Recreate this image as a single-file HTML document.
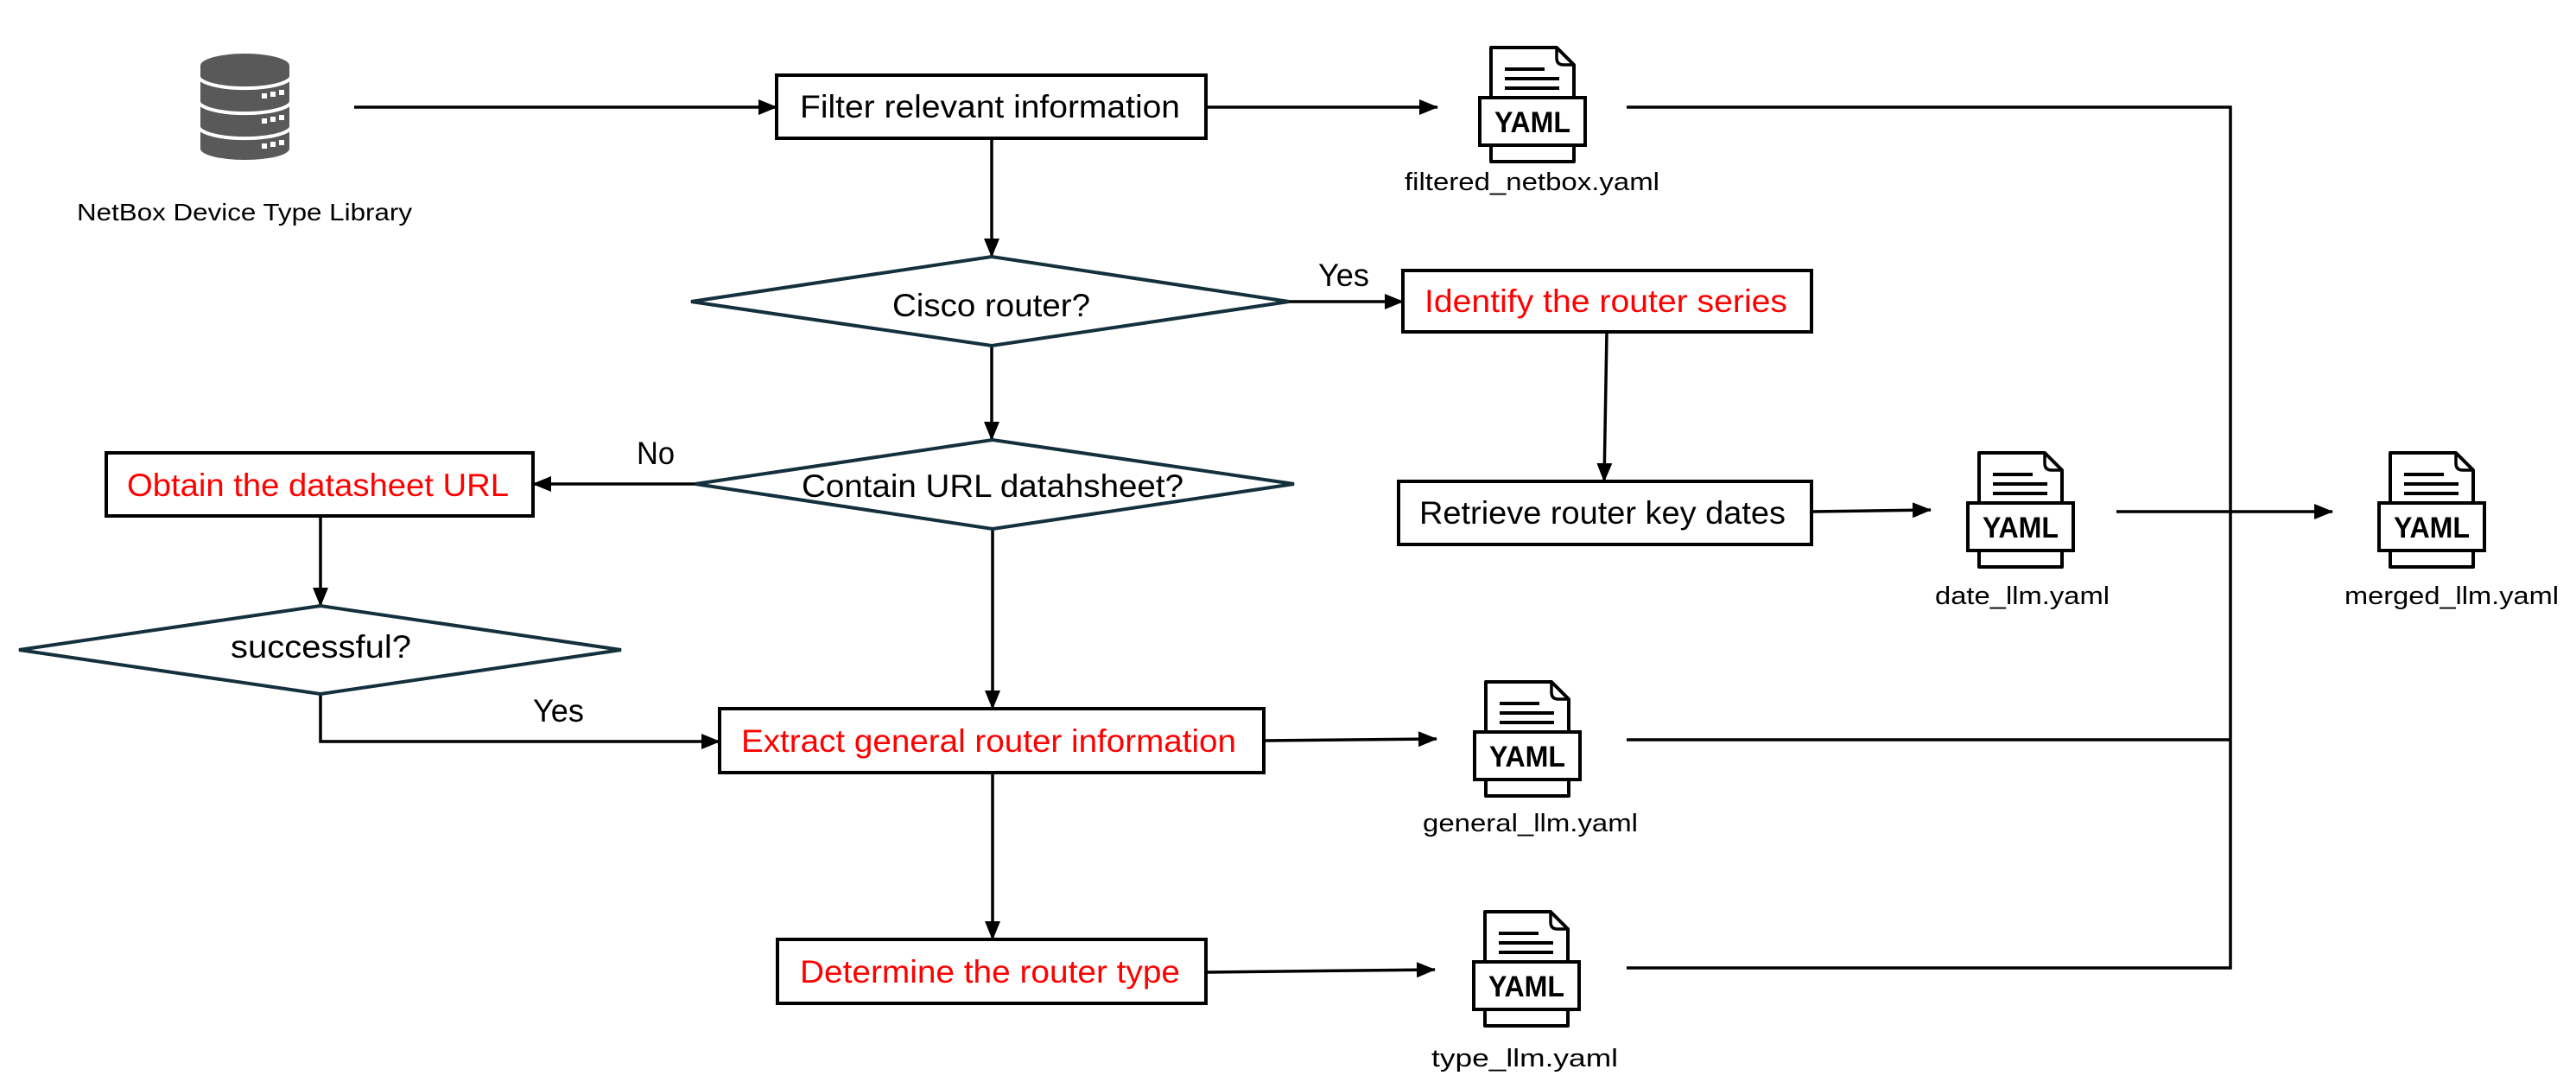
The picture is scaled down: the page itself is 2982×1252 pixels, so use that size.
<!DOCTYPE html>
<html><head><meta charset="utf-8"><style>
html,body{margin:0;padding:0;background:#fff;}
svg{display:block;}
text{font-family:"Liberation Sans",sans-serif;}
</style></head><body>
<svg width="2982" height="1252" viewBox="0 0 2982 1252" xmlns="http://www.w3.org/2000/svg">
<defs>
<marker id="ah" markerWidth="22" markerHeight="18" refX="21" refY="9" orient="auto" markerUnits="userSpaceOnUse">
<path d="M0,0 L22,9 L0,18 Z" fill="#000"/>
</marker>
<g id="yaml">
<path d="M0,0 H76 L96,20 V132 H0 Z" fill="#fff" stroke="#000" stroke-width="4" stroke-linejoin="round"/>
<path d="M76,0 V12 Q76,20 84,20 H96" fill="none" stroke="#000" stroke-width="3.5"/>
<line x1="16" y1="25" x2="62" y2="25" stroke="#000" stroke-width="4"/>
<line x1="16" y1="36" x2="79" y2="36" stroke="#000" stroke-width="4"/>
<line x1="16" y1="47" x2="79" y2="47" stroke="#000" stroke-width="4"/>
<rect x="-13" y="58" width="122" height="55" fill="#fff" stroke="#000" stroke-width="4"/>
<text x="48" y="98" text-anchor="middle" font-weight="bold" font-size="34" textLength="88" lengthAdjust="spacingAndGlyphs">YAML</text>
</g>
</defs>

<!-- database icon -->
<g fill="#595959">
<rect x="232" y="76" width="103" height="96"/>
<ellipse cx="283.5" cy="76" rx="51.5" ry="14"/>
<ellipse cx="283.5" cy="172" rx="51.5" ry="13"/>
</g>
<g fill="none" stroke="#fff" stroke-width="4">
<path d="M230,88 A53,14 0 0 0 337,88"/>
<path d="M230,117 A53,14 0 0 0 337,117"/>
<path d="M230,146 A53,14 0 0 0 337,146"/>
</g>
<g fill="#fff">
<rect x="303" y="108" width="6" height="6"/><rect x="313" y="106" width="6" height="6"/><rect x="323" y="104" width="6" height="6"/>
<rect x="303" y="137" width="6" height="6"/><rect x="313" y="135" width="6" height="6"/><rect x="323" y="133" width="6" height="6"/>
<rect x="303" y="166" width="6" height="6"/><rect x="313" y="164" width="6" height="6"/><rect x="323" y="162" width="6" height="6"/>
</g>
<text x="89" y="255" font-size="28" textLength="388" lengthAdjust="spacingAndGlyphs">NetBox Device Type Library</text>

<!-- connectors -->
<g stroke="#000" stroke-width="3.5" fill="none">
<line x1="410" y1="124" x2="899" y2="124" marker-end="url(#ah)"/>
<line x1="1396" y1="124" x2="1664" y2="124" marker-end="url(#ah)"/>
<line x1="1148" y1="160" x2="1148" y2="297" marker-end="url(#ah)"/>
<line x1="1492" y1="349" x2="1624" y2="349" marker-end="url(#ah)"/>
<line x1="1148" y1="400" x2="1148" y2="509" marker-end="url(#ah)"/>
<line x1="805" y1="560" x2="617" y2="560" marker-end="url(#ah)"/>
<line x1="371" y1="597" x2="371" y2="701" marker-end="url(#ah)"/>
<polyline points="371,803 371,858 833,858" marker-end="url(#ah)"/>
<line x1="1149" y1="612" x2="1149" y2="820" marker-end="url(#ah)"/>
<line x1="1860" y1="384" x2="1857" y2="557" marker-end="url(#ah)"/>
<line x1="2097" y1="592" x2="2235" y2="590" marker-end="url(#ah)"/>
<line x1="2450" y1="592" x2="2700" y2="592" marker-end="url(#ah)"/>
<line x1="1463" y1="857" x2="1663" y2="855" marker-end="url(#ah)"/>
<line x1="1149" y1="894" x2="1149" y2="1087" marker-end="url(#ah)"/>
<line x1="1396" y1="1125" x2="1661" y2="1122" marker-end="url(#ah)"/>
<polyline points="1883,124 2582,124 2582,1120 1883,1120"/>
<line x1="1883" y1="856" x2="2582" y2="856"/>
</g>

<!-- boxes -->
<g fill="#fff" stroke="#000" stroke-width="4">
<rect x="899" y="87" width="497" height="73"/>
<rect x="1624" y="313" width="473" height="71"/>
<rect x="1619" y="557" width="478" height="73"/>
<rect x="123" y="524" width="494" height="73"/>
<rect x="833" y="820" width="630" height="74"/>
<rect x="900" y="1087" width="496" height="74"/>
</g>
<g fill="#fff" stroke="#14303d" stroke-width="4">
<polygon points="800,349 1148,297 1492,349 1148,400"/>
<polygon points="805,560 1149,509 1498,560 1149,612"/>
<polygon points="22,752 371,701 719,752 371,803"/>
</g>

<!-- texts -->
<g font-size="37">
<text x="926" y="136" textLength="440" lengthAdjust="spacingAndGlyphs">Filter relevant information</text>
<text x="1033" y="366" textLength="229" lengthAdjust="spacingAndGlyphs">Cisco router?</text>
<text x="1649" y="361" fill="#ff0000" textLength="420" lengthAdjust="spacingAndGlyphs">Identify the router series</text>
<text x="1643" y="606" textLength="424" lengthAdjust="spacingAndGlyphs">Retrieve router key dates</text>
<text x="928" y="575" textLength="442" lengthAdjust="spacingAndGlyphs">Contain URL datahsheet?</text>
<text x="147" y="574" fill="#ff0000" textLength="442" lengthAdjust="spacingAndGlyphs">Obtain the datasheet URL</text>
<text x="267" y="761" textLength="209" lengthAdjust="spacingAndGlyphs">successful?</text>
<text x="858" y="870" fill="#ff0000" textLength="573" lengthAdjust="spacingAndGlyphs">Extract general router information</text>
<text x="926" y="1137" fill="#ff0000" textLength="440" lengthAdjust="spacingAndGlyphs">Determine the router type</text>
<text x="1526" y="331" textLength="59" lengthAdjust="spacingAndGlyphs">Yes</text>
<text x="737" y="537" textLength="44" lengthAdjust="spacingAndGlyphs">No</text>
<text x="617" y="835" textLength="59" lengthAdjust="spacingAndGlyphs">Yes</text>
</g>

<!-- yaml icons -->
<use href="#yaml" x="1726" y="55"/>
<use href="#yaml" x="2291" y="524"/>
<use href="#yaml" x="2767" y="524"/>
<use href="#yaml" x="1720" y="789"/>
<use href="#yaml" x="1719" y="1055"/>

<g font-size="29">
<text x="1626" y="220" textLength="295" lengthAdjust="spacingAndGlyphs">filtered_netbox.yaml</text>
<text x="2240" y="699" textLength="202" lengthAdjust="spacingAndGlyphs">date_llm.yaml</text>
<text x="2714" y="699" textLength="248" lengthAdjust="spacingAndGlyphs">merged_llm.yaml</text>
<text x="1647" y="962" textLength="249" lengthAdjust="spacingAndGlyphs">general_llm.yaml</text>
<text x="1657" y="1234" textLength="216" lengthAdjust="spacingAndGlyphs">type_llm.yaml</text>
</g>
</svg>
</body></html>
